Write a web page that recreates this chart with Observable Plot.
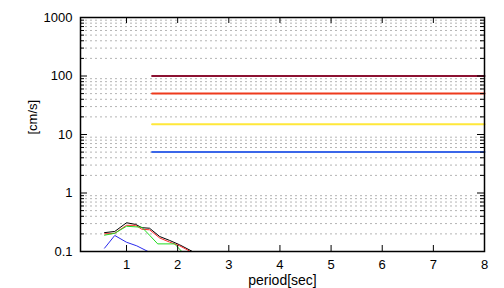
<!DOCTYPE html>
<html>
<head>
<meta charset="utf-8">
<script src="https://cdn.jsdelivr.net/npm/d3@7"></script>
<script src="https://cdn.jsdelivr.net/npm/@observablehq/plot@0.6"></script>
<style>
  html, body { margin: 0; padding: 0; background: #fff; }
  svg { display: block; }
</style>
</head>
<body>
<div id="chart"></div>
<script>
// ---- data ----
const blackX = [0.57, 0.77, 1.0, 1.18, 1.3, 1.45, 1.65, 1.84, 2.04, 2.29, 2.5];
const blackY = [0.21, 0.22, 0.31, 0.29, 0.255, 0.25, 0.18, 0.155, 0.13, 0.1, 0.085];
const redX   = [0.57, 0.77, 1.0, 1.18, 1.3, 1.45, 1.65, 1.84, 2.04, 2.25, 2.45];
const redY   = [0.2, 0.205, 0.28, 0.28, 0.24, 0.235, 0.17, 0.145, 0.125, 0.1, 0.085];
const greenX = [0.57, 0.77, 1.0, 1.3, 1.45, 1.61, 1.94, 2.08, 2.2];
const greenY = [0.19, 0.205, 0.27, 0.26, 0.19, 0.135, 0.135, 0.1, 0.085];
const blueX  = [0.57, 0.77, 1.0, 1.2, 1.42, 1.55];
const blueY  = [0.114, 0.188, 0.144, 0.125, 0.1, 0.09];

const levels = [100, 50, 15, 5];
const levelColors = ["#8c1232", "#ee3a1c", "#ffe83a", "#3a66e8"];
const levelStart = 1.5;
const levelEnd = 8;

const xTicks = [1, 2, 3, 4, 5, 6, 7, 8];
const yMajor = [0.1, 1, 10, 100, 1000];
const yMinor = [];
for (let e = -1; e < 3; e++) for (let m = 2; m <= 9; m++) yMinor.push(+(m * Math.pow(10, e)).toPrecision(3));

const xLabel = "period[sec]";
const yLabel = "[cm/s]";

// ---- build ----
const W = 504, H = 288;
const mL = 80, mR = 20, mT = 17, mB = 37;
const pw = W - mL - mR, ph = H - mT - mB;

const curves = [
  {xs: blackX, ys: blackY, color: "#000000"},
  {xs: redX, ys: redY, color: "#ff2a2a"},
  {xs: greenX, ys: greenY, color: "#22dd22"},
  {xs: blueX, ys: blueY, color: "#2a2aee"}
];
const curveData = curves.flatMap((c, i) => c.xs.map((x, j) => ({x, y: c.ys[j], s: i, color: c.color})));
const levelData = levels.flatMap((v, i) => [levelStart, levelEnd].map(x => ({x, y: v, s: i, color: levelColors[i]})));

const font = "'Liberation Sans', Arial, Helvetica, sans-serif";

const chart = Plot.plot({
  width: W, height: H,
  marginLeft: mL, marginRight: mR, marginTop: mT, marginBottom: mB,
  style: {fontFamily: font, fontSize: "13px", color: "#000", background: "#fff"},
  x: {type: "linear", domain: [0.1, 8]},
  y: {type: "log", domain: [0.1, 1000]},
  marks: [
    Plot.ruleY(yMinor, {stroke: "#b4b4b4", strokeWidth: 1, strokeDasharray: "2,3"}),
    Plot.line(levelData, {x: "x", y: "y", z: "s", stroke: "color", strokeWidth: 2}),
    Plot.line(curveData, {x: "x", y: "y", z: "s", stroke: "color", strokeWidth: 1, clip: true}),
    // inward ticks
    Plot.tickX(xTicks, {x: d => d, insetTop: ph - 6, stroke: "#000"}),
    Plot.tickX(xTicks, {x: d => d, insetBottom: ph - 6, stroke: "#000"}),
    Plot.tickY(yMajor, {y: d => d, insetRight: pw - 7, stroke: "#000"}),
    Plot.tickY(yMajor, {y: d => d, insetLeft: pw - 7, stroke: "#000"}),
    Plot.tickY(yMinor, {y: d => d, insetRight: pw - 4, stroke: "#000"}),
    Plot.tickY(yMinor, {y: d => d, insetLeft: pw - 4, stroke: "#000"}),
    Plot.frame({stroke: "#000", strokeWidth: 1.5}),
    Plot.axisX({ticks: xTicks, tickSize: 0, tickPadding: 8, tickFormat: d => String(d), label: null, fontSize: 13}),
    Plot.axisY({ticks: yMajor, tickSize: 0, tickPadding: 8, tickFormat: d => String(d), label: null, fontSize: 13}),
    Plot.text([xLabel], {text: d => d, frameAnchor: "bottom", lineAnchor: "middle", dy: 29, fontSize: 14, fill: "#000"}),
    Plot.text([yLabel], {text: d => d, frameAnchor: "left", lineAnchor: "middle", dx: -48, rotate: -90, fontSize: 13, fill: "#000"})
  ]
});
document.getElementById("chart").appendChild(chart);
</script>
</body>
</html>
